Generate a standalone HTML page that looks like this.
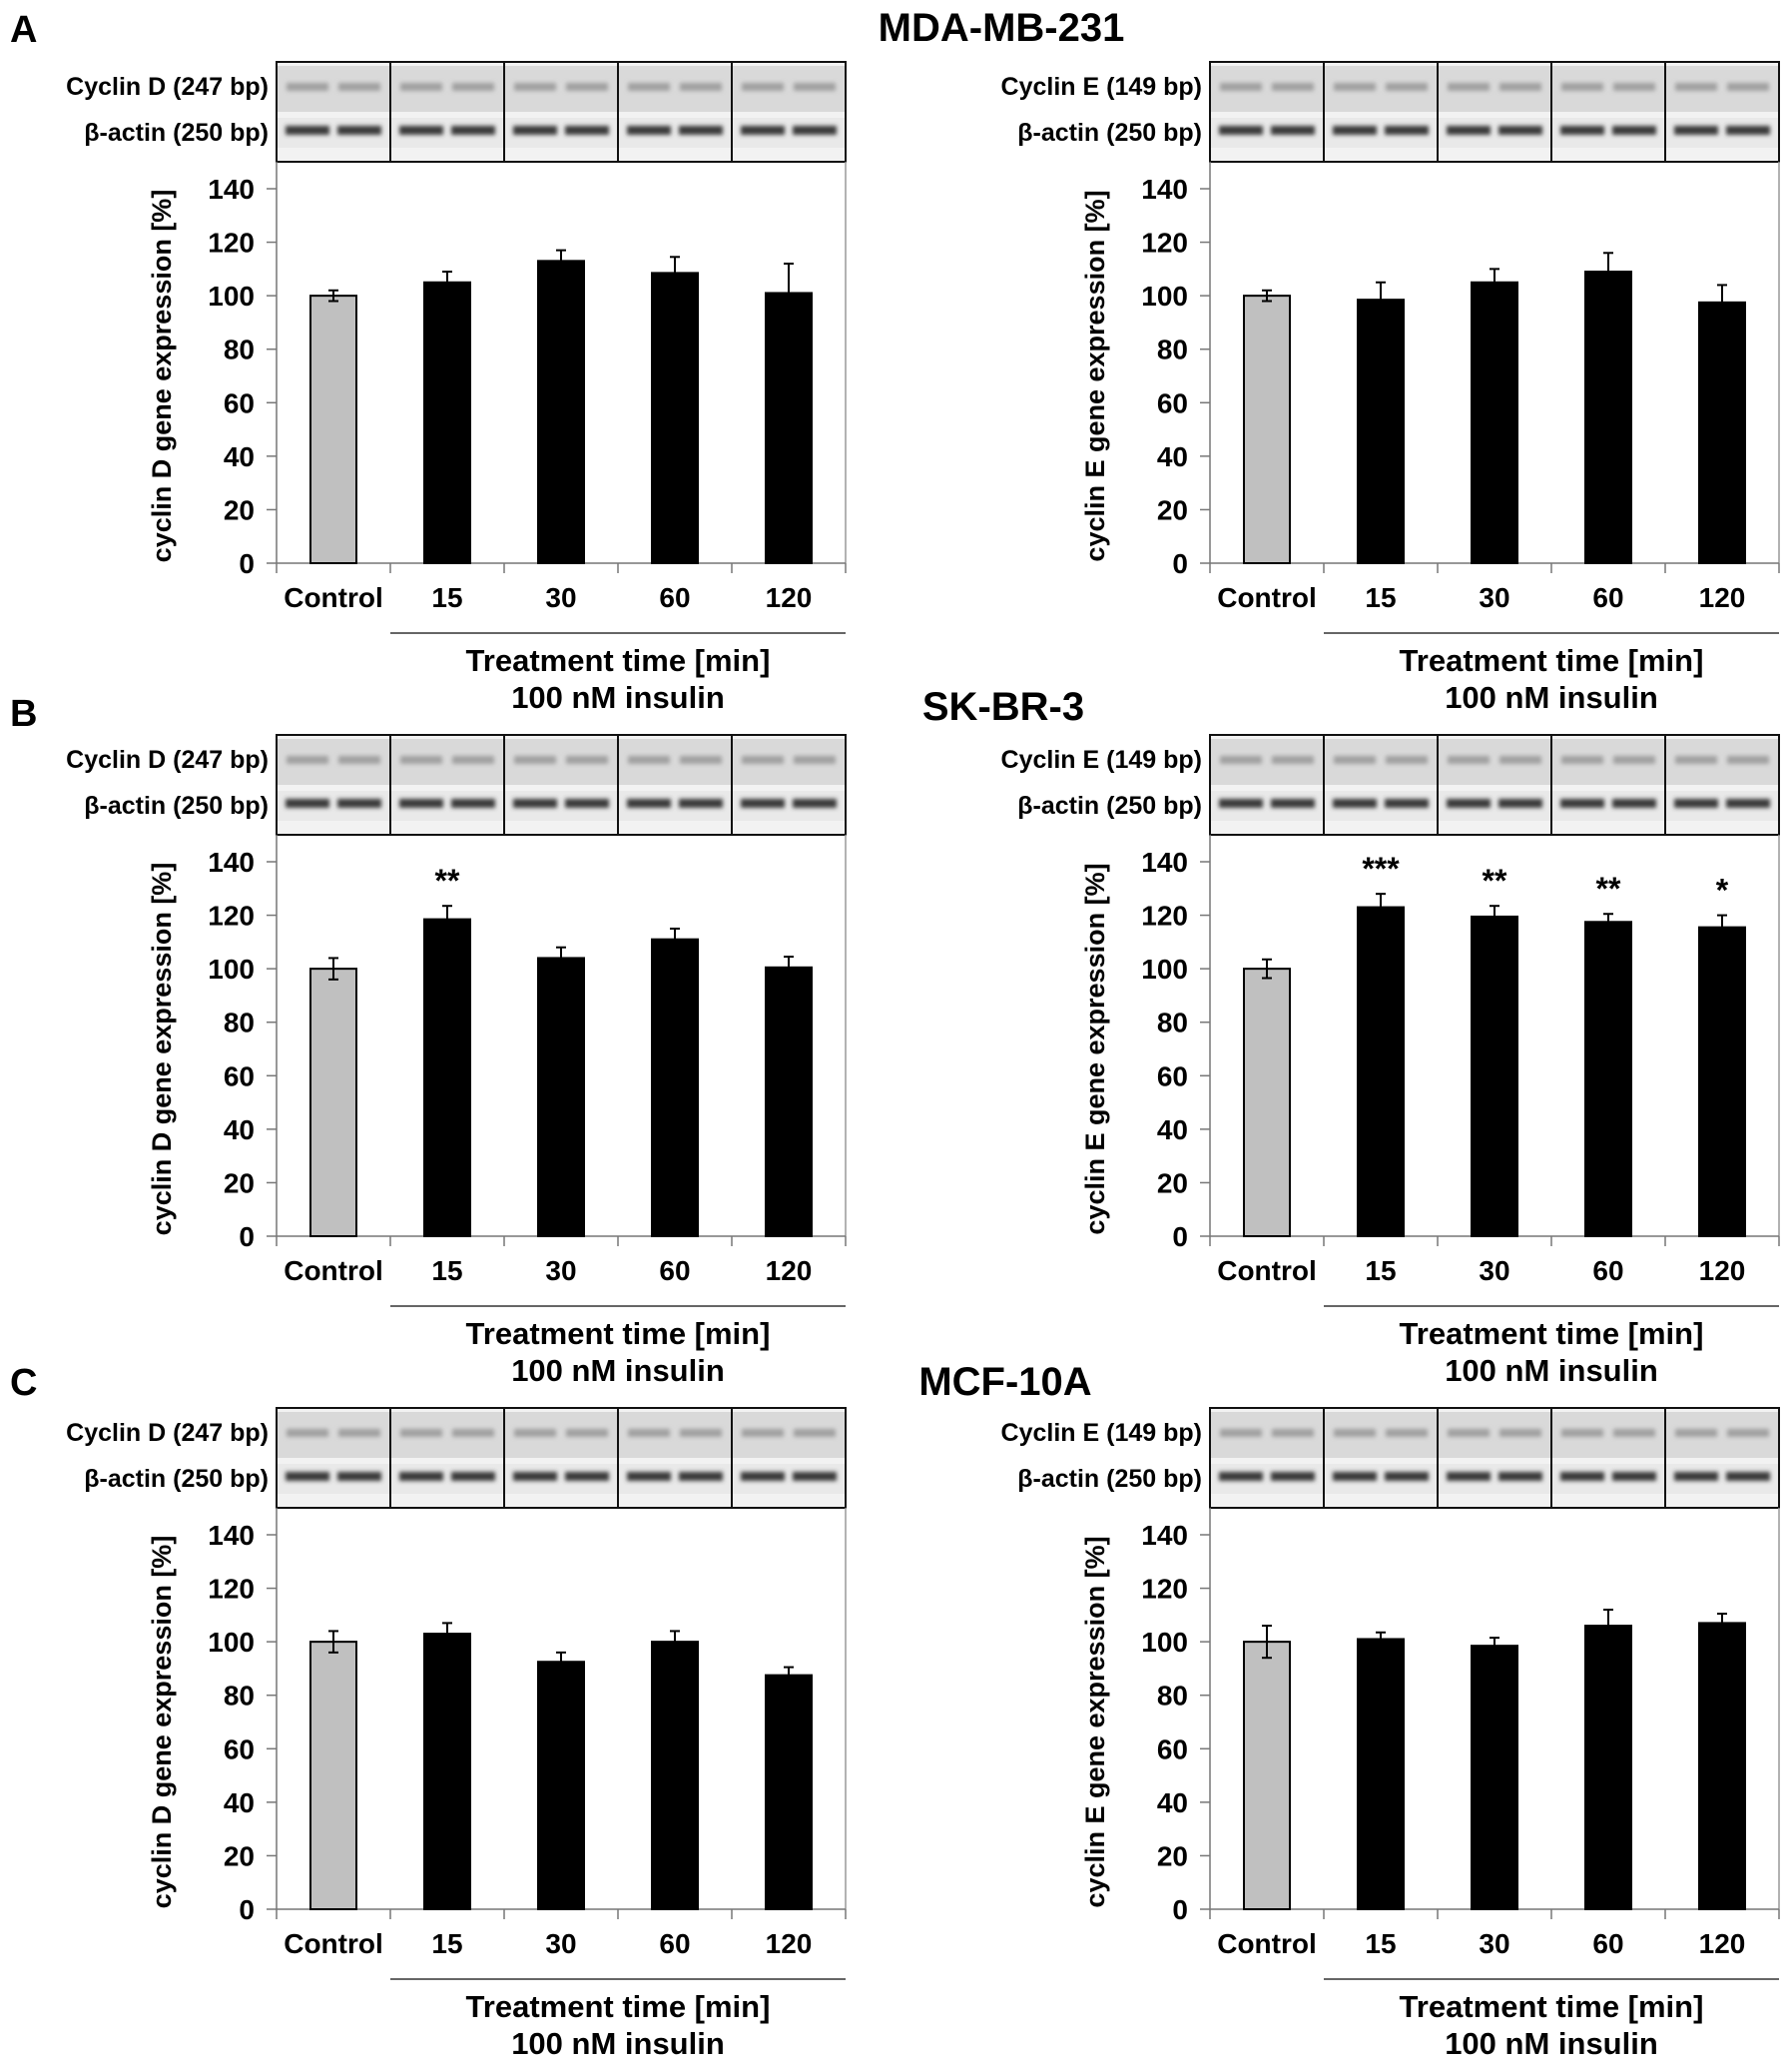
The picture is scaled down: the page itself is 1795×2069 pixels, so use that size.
<!DOCTYPE html>
<html><head><meta charset="utf-8"><style>
html,body{margin:0;padding:0;background:#fff;}
svg{display:block;font-family:"Liberation Sans",Arial,sans-serif;font-weight:bold;}
</style></head><body>
<svg id="fig" width="1795" height="2069" viewBox="0 0 1795 2069" xmlns="http://www.w3.org/2000/svg">
<defs><filter id="blur" x="-20%" y="-100%" width="140%" height="300%"><feGaussianBlur stdDeviation="2"/></filter></defs>
</svg>
<script>
const categories = ["Control","15","30","60","120"];
const yTicks = [0,20,40,60,80,100,120,140];
const aDval = [100,105,113,108.5,101];
const aDerr = [2,4,4,6,11];
const aEval = [100,98.5,105,109,97.5];
const aEerr = [2,6.5,5,7,6.5];
const bDval = [100,118.5,104,111,100.5];
const bDerr = [4,5,4,4,4];
const bDsig = ["","**","","",""];
const bEval = [100,123,119.5,117.5,115.5];
const bEerr = [3.5,5,4,3,4.5];
const bEsig = ["","***","**","**","*"];
const cDval = [100,103,92.5,100,87.5];
const cDerr = [4,4,3.5,4,3];
const cEval = [100,101,98.5,106,107];
const cEerr = [6,2.5,3,6,3.5];
const noSig = ["","","","",""];

const svg = document.getElementById('fig');
const NS = 'http://www.w3.org/2000/svg';
function mk(tag, attrs, parent){const e=document.createElementNS(NS,tag);for(const k in attrs)e.setAttribute(k,attrs[k]);(parent||svg).appendChild(e);return e;}
function txt(s, attrs, parent){const e=mk('text',attrs,parent);e.textContent=s;return e;}

function panel(ox, oy, gene, bp, vals, errs, sigs, id){
  const g = mk('g',{});
  
  
  const L=277+ox, R=847+ox, gelTop=62+oy, gelBot=162+oy, y0=564+oy, y140=189+oy;
  const catW=(R-L)/categories.length;
  const ys=v=>y0-(v/140)*(y0-y140);
  const xc=i=>L+catW*(i+0.5);
  const gel = mk('g',{},g);
  
  
  mk('rect',{x:L,y:gelTop,width:R-L,height:gelBot-gelTop,fill:'#f2f2f2'},gel);
  mk('rect',{x:L,y:gelTop+4,width:R-L,height:46,fill:'#d9d9d9'},gel);
  mk('rect',{x:L,y:gelTop+56,width:R-L,height:30,fill:'#e9e9e9'},gel);
  for(let i=0;i<categories.length;i++){
    for(const d of [-26,26]){
      const cx=xc(i)+d;
      mk('rect',{x:cx-21,y:gelTop+21,width:42,height:8,fill:'#a0a0a0',filter:'url(#blur)'},gel);
      mk('rect',{x:cx-22,y:gelTop+64,width:44,height:9,fill:'#3a3a3a',filter:'url(#blur)'},gel);
    }
  }
  mk('rect',{x:L,y:gelTop,width:R-L,height:gelBot-gelTop,fill:'none',stroke:'#111','stroke-width':2},gel);
  for(let i=1;i<categories.length;i++) mk('line',{x1:L+catW*i,y1:gelTop,x2:L+catW*i,y2:gelBot,stroke:'#111','stroke-width':2},gel);
  const l1=txt(gene+' ('+bp+' bp)',{x:L-8,y:gelTop+33,'text-anchor':'end','font-size':25},g);
  
  
  const l2=txt('β-actin (250 bp)',{x:L-8,y:gelTop+79,'text-anchor':'end','font-size':25},g);
  
  
  mk('line',{x1:R,y1:gelBot,x2:R,y2:y0,stroke:'#999','stroke-width':1.5},g);
  mk('line',{x1:L,y1:gelBot,x2:L,y2:y0,stroke:'#777','stroke-width':1.5},g);
  mk('line',{x1:L,y1:y0,x2:R,y2:y0,stroke:'#777','stroke-width':1.5},g);
  for(let i=0;i<=categories.length;i++) mk('line',{x1:L+catW*i,y1:y0,x2:L+catW*i,y2:y0+10,stroke:'#777','stroke-width':1.5},g);
  for(const t of yTicks){
    mk('line',{x1:L-10,y1:ys(t),x2:L,y2:ys(t),stroke:'#777','stroke-width':1.5},g);
    const tl=txt(String(t),{x:L-22,y:ys(t)+10,'text-anchor':'end','font-size':28},g);
    
    
  }
  const yt=txt('cyclin '+gene.slice(-1)+' gene expression [%]',{x:0,y:0,'text-anchor':'middle','font-size':27,transform:'translate('+(L-106)+','+((y0+y140)/2)+') rotate(-90)'},g);
  
  
  for(let i=0;i<categories.length;i++){
    const cx=xc(i), top=ys(vals[i]), bw=46;
    const b=mk('rect',{x:cx-bw/2,y:top,width:bw,height:y0-top,fill:i===0?'#c0c0c0':'#000',stroke:'#000','stroke-width':2},g);
    
    
    const et=ys(vals[i]+errs[i]), eb=ys(vals[i]-errs[i]);
    mk('line',{x1:cx,y1:et,x2:cx,y2:i===0?eb:top,stroke:'#000','stroke-width':2},g);
    mk('line',{x1:cx-5,y1:et,x2:cx+5,y2:et,stroke:'#000','stroke-width':2},g);
    if(i===0) mk('line',{x1:cx-5,y1:eb,x2:cx+5,y2:eb,stroke:'#000','stroke-width':2},g);
    if(sigs[i]){
      const s=txt(sigs[i],{x:cx,y:et-14,'text-anchor':'middle','font-size':32},g);
      
      
    }
    const cl=txt(categories[i],{x:cx,y:y0+44,'text-anchor':'middle','font-size':28},g);
    
    
  }
  mk('line',{x1:L+catW,y1:y0+70,x2:R,y2:y0+70,stroke:'#333','stroke-width':1.5},g);
  const xt=txt('Treatment time [min]',{x:(L+catW+R)/2,y:y0+108,'text-anchor':'middle','font-size':31},g);
  
  
  const xt2=txt('100 nM insulin',{x:(L+catW+R)/2,y:y0+145,'text-anchor':'middle','font-size':31},g);
  
  
}

panel(0,0,'Cyclin D',247,aDval,aDerr,noSig,'a-cyclin-d');
panel(935,0,'Cyclin E',149,aEval,aEerr,noSig,'a-cyclin-e');
panel(0,674,'Cyclin D',247,bDval,bDerr,bDsig,'b-cyclin-d');
panel(935,674,'Cyclin E',149,bEval,bEerr,bEsig,'b-cyclin-e');
panel(0,1348,'Cyclin D',247,cDval,cDerr,noSig,'c-cyclin-d');
panel(935,1348,'Cyclin E',149,cEval,cEerr,noSig,'c-cyclin-e');

const heads=[['A',10,42,'panel-label-a'],['B',10,727,'panel-label-b'],['C',10,1397,'panel-label-c']];
for(const h of heads){const t=txt(h[0],{x:h[1],y:h[2],'font-size':38},svg);

}
const titles=[['MDA-MB-231',1003,41,'title-mda-mb-231'],['SK-BR-3',1005,721,'title-sk-br-3'],['MCF-10A',1007,1397,'title-mcf-10a']];
for(const h of titles){const t=txt(h[0],{x:h[1],y:h[2],'font-size':40,'text-anchor':'middle'},svg);

}
</script>
</body></html>
